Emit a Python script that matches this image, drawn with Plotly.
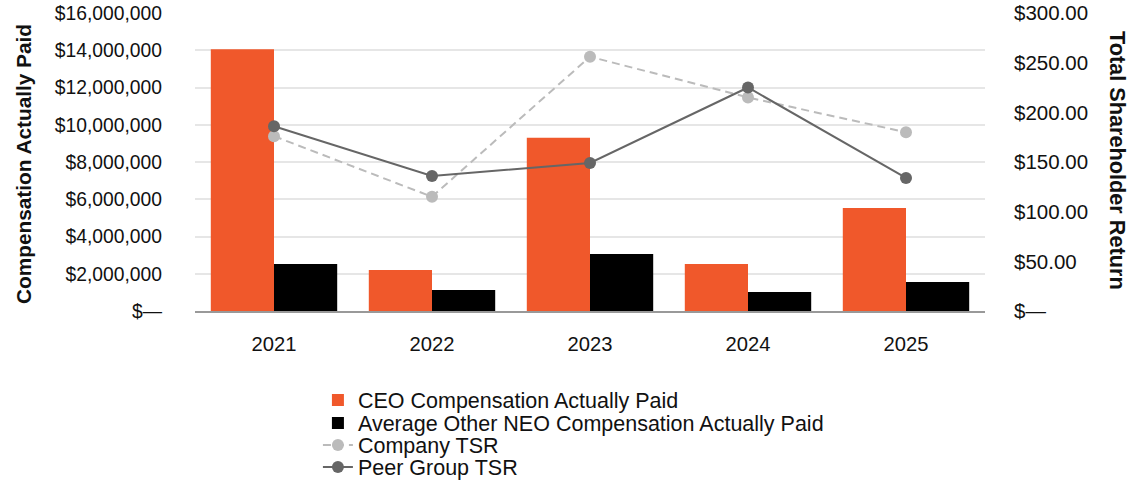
import plotly.graph_objects as go

years = ["2021", "2022", "2023", "2024", "2025"]
ceo_cap = [14050000, 2200000, 9300000, 2520000, 5530000]
neo_cap = [2520000, 1130000, 3060000, 1020000, 1560000]
company_tsr = [176, 115, 256, 215, 180]
peer_tsr = [186, 136, 149, 225, 134]

left_ticks = [0, 2000000, 4000000, 6000000, 8000000, 10000000, 12000000, 14000000, 16000000]
left_text = ["$\u2014"] + ["${:,}".format(v) for v in left_ticks[1:]]
right_ticks = [0, 50, 100, 150, 200, 250, 300]
right_text = ["$\u2014"] + ["${:.2f}".format(v) for v in right_ticks[1:]]

FONT = "Liberation Sans, Arial, Helvetica, sans-serif"
TXT = "#111111"

fig = go.Figure()
fig.add_trace(go.Bar(x=years, y=ceo_cap, name="CEO Compensation Actually Paid",
                     marker=dict(color="#F0582B", line=dict(width=0)), legend="legend"))
fig.add_trace(go.Bar(x=years, y=neo_cap, name="Average Other NEO Compensation Actually Paid",
                     marker=dict(color="#000000", line=dict(width=0)), legend="legend2"))
fig.add_trace(go.Scatter(x=years, y=company_tsr, name="Company TSR", yaxis="y2",
                         mode="lines+markers",
                         line=dict(color="#BBBBBB", width=2, dash="8px,5px"),
                         marker=dict(color="#BBBBBB", size=12), legend="legend3"))
fig.add_trace(go.Scatter(x=years, y=peer_tsr, name="Peer Group TSR", yaxis="y2",
                         mode="lines+markers",
                         line=dict(color="#666666", width=2),
                         marker=dict(color="#666666", size=12), legend="legend4"))

def leg(yc):
    return dict(x=0.1556, y=yc, xanchor="left", yanchor="middle",
                orientation="v", font=dict(size=21.5, color=TXT, family=FONT),
                itemwidth=30, bgcolor="rgba(0,0,0,0)", borderwidth=0)

fig.update_layout(
    width=1143, height=486,
    margin=dict(l=195, r=158, t=13, b=175, autoexpand=False),
    paper_bgcolor="white", plot_bgcolor="white",
    font=dict(family=FONT, size=20, color=TXT),
    barmode="group", bargap=0.2, bargroupgap=0,
    showlegend=True,
    legend=leg(-0.2987), legend2=leg(-0.3758), legend3=leg(-0.4497), legend4=leg(-0.5235),
    xaxis=dict(showgrid=False, showline=True, linecolor="#999999", linewidth=2,
               ticks="", ticklabelstandoff=14, tickfont=dict(size=20.2)),
    yaxis=dict(range=[0, 16000000], tickvals=left_ticks, ticktext=left_text,
               showgrid=True, gridcolor="#E6E6E6", gridwidth=2,
               zeroline=False, showline=False, ticks="",
               ticklabelstandoff=32, tickfont=dict(size=19.3)),
    yaxis2=dict(range=[0, 300], tickvals=right_ticks, ticktext=right_text,
                overlaying="y", side="right", showgrid=False, zeroline=False,
                showline=False, ticks="", ticklabelstandoff=28,
                tickfont=dict(size=20.5)),
    annotations=[
        dict(text="<b>Compensation Actually Paid</b>", xref="paper", yref="paper",
             x=(23 - 195) / 790, y=(311 - 164) / 298, xanchor="center", yanchor="middle",
             textangle=-90, showarrow=False, font=dict(size=20.8, color=TXT)),
        dict(text="<b>Total Shareholder Return</b>", xref="paper", yref="paper",
             x=(1118 - 195) / 790, y=(311 - 160) / 298, xanchor="center", yanchor="middle",
             textangle=90, showarrow=False, font=dict(size=21.7, color=TXT)),
    ],
)

fig.write_html("out.html", config={"displayModeBar": False},
               post_script="document.body.style.margin='0';")
